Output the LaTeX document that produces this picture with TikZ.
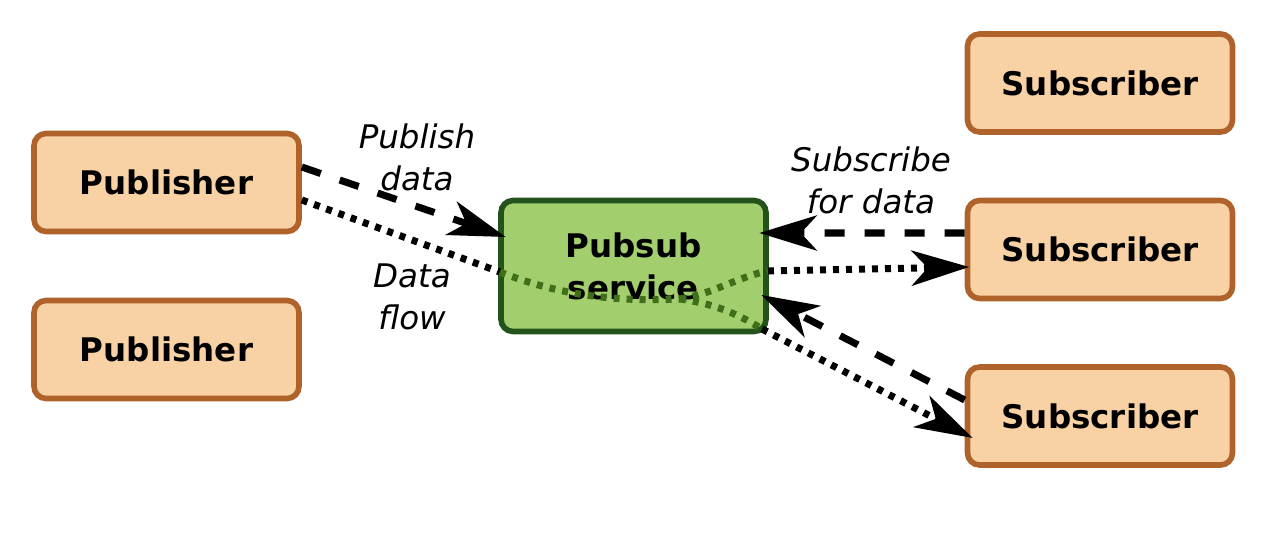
\documentclass[tikz,border=0pt]{standalone}
\usepackage{fontspec}
\setmainfont{DejaVu Sans}
\usetikzlibrary{arrows.meta}
\definecolor{boxfill}{HTML}{F8D1A4}
\definecolor{boxline}{HTML}{B0622B}
\definecolor{psfill}{HTML}{A2CE6E}
\definecolor{psline}{HTML}{23531A}
\definecolor{psdot}{HTML}{3F6F18}
\begin{document}
\begin{tikzpicture}[x=0.02cm,y=-0.02cm,
  client/.style={draw=boxline, fill=boxfill, line width=3.2pt, rounded corners=0.24cm, minimum width=5.3cm, minimum height=1.96cm, font=\fontsize{18.5}{22}\selectfont\bfseries},
  service/.style={draw=psline, fill=psfill, line width=3.2pt, rounded corners=0.24cm, minimum width=5.3cm, minimum height=2.62cm, align=center, font=\fontsize{18.5}{24}\selectfont\bfseries},
  lbl/.style={align=center, font=\fontsize{18.5}{24}\selectfont\itshape},
  tip/.style={-{Stealth[length=1.15cm,width=0.7cm,inset=0.32cm]}},
  req/.style={tip, line width=4pt, dash pattern=on 11.4pt off 11.4pt},
  flow/.style={line width=4pt, dash pattern=on 3.4pt off 4pt},
  flowin/.style={flow, draw=psdot}]
\useasboundingbox (0,0) rectangle (1267,533);
\node[client] (pub1) at (166.5,182.5) {Publisher};
\node[client] (pub2) at (166.5,349.5) {Publisher};
\node[client] (sub1) at (1100,83) {Subscriber};
\node[client] (sub2) at (1100,249.5) {Subscriber};
\node[client] (sub3) at (1100,416) {Subscriber};
\node[service] (ps) at (633.5,266) {Pubsub\\service};

\coordinate (fin) at (500,272);
\coordinate (mid) at (680,299);
\coordinate (outa) at (768,271);
\coordinate (outb) at (762,329);

\node[lbl] (lpub) at (417,157) {Publish\\data};
\node[lbl] (lflow) at (412,297) {Data\\flow};
\node[lbl] (lsub) at (871,180) {Subscribe\\for data};

% data flow through the service
\draw[flow] ([yshift=-0.35cm]pub1.east) -- (fin);
\draw[flowin] (fin) .. controls (560,296) and (620,302) .. (mid);
\draw[flowin] (mid) .. controls (710,295) and (740,276) .. (outa);
\draw[flowin] (mid) .. controls (710,303) and (735,312) .. (outb);
\draw[flow, tip] (outa) -- ([xshift=0.09cm,yshift=-0.35cm]sub2.west);
\draw[flow, tip] (outb) -- ([xshift=0.16cm,yshift=-0.44cm]sub3.west);

% requests
\draw[req] ([yshift=0.31cm]pub1.east) -- ([xshift=0.15cm,yshift=0.58cm]ps.west);
\draw[req] ([yshift=0.33cm]sub2.west) -- ([xshift=-0.19cm,yshift=0.66cm]ps.east);
\draw[req] ([yshift=0.32cm]sub3.west) -- ([xshift=-0.15cm,yshift=-0.58cm]ps.east);
\end{tikzpicture}
\end{document}
